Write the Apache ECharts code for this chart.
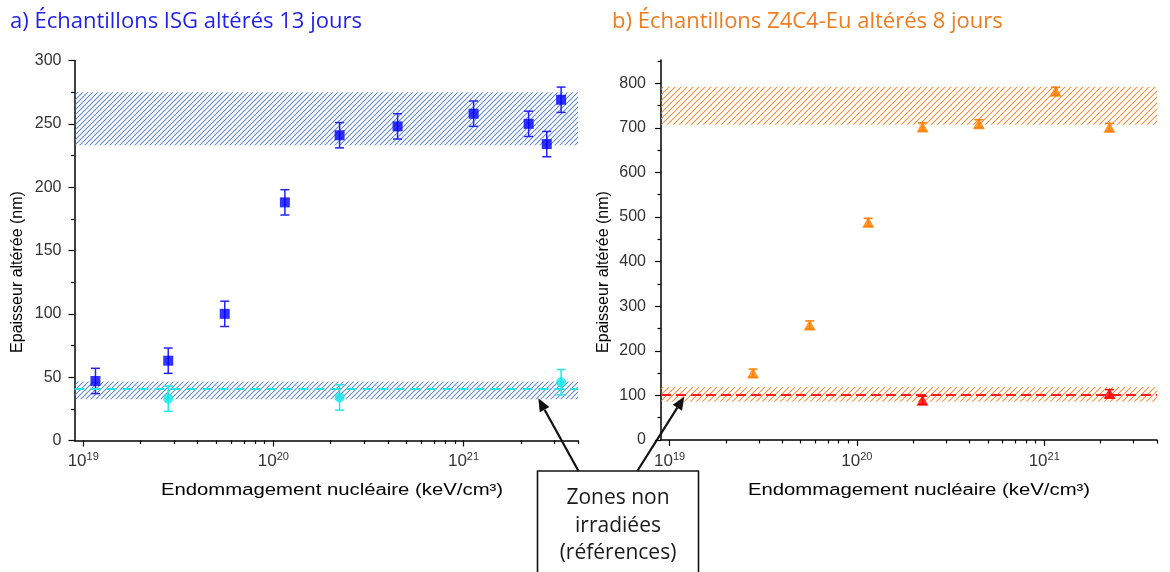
<!DOCTYPE html>
<html><head><meta charset="utf-8">
<script src="https://cdn.jsdelivr.net/npm/echarts@6/dist/echarts.min.js"></script>
<style>html,body{margin:0;padding:0;background:#fff}#c{width:1170px;height:572px}</style>
</head><body><div id="c"></div>
<script>
// ---------- data ----------
// a) ISG, 13 days
const isgX = [1.16e19, 2.8e19, 5.55e19, 1.15e20, 2.23e20, 4.5e20, 1.13e21, 2.2e21, 2.74e21, 3.26e21];
const isgY = [47, 63, 100, 188, 241, 248, 258, 250, 234, 269];
const isgErr = [10, 10, 10, 10, 10, 10, 10, 10, 10, 10];
const isgRefX = [2.8e19, 2.23e20, 3.26e21];
const isgRefY = [33, 34, 46];
const isgRefErr = [10, 10, 10];
const isgRefMean = 41;
const isgBandHigh = [233, 275];
const isgBandLow = [32.5, 46.5];
// b) Z4C4-Eu, 8 days
const z4X = [2.79e19, 5.6e19, 1.15e20, 2.24e20, 4.48e20, 1.15e21, 2.23e21];
const z4Y = [150, 258, 488, 702, 709, 782, 701];
const z4Err = [9, 9, 9, 9, 9, 9, 9];
const z4RefX = [2.24e20, 2.23e21];
const z4RefY = [89, 104];
const z4RefErr = [9, 9];
const z4RefMean = 102;
const z4BandHigh = [707, 792];
const z4BandLow = [86, 119];
// ticks
const xMajor = [1e19, 1e20, 1e21];
const xMinor = [9e18, 2e19, 3e19, 4e19, 5e19, 6e19, 7e19, 8e19, 9e19,
  2e20, 3e20, 4e20, 5e20, 6e20, 7e20, 8e20, 9e20, 2e21, 3e21, 4e21];
const yLeftMajor = [0, 50, 100, 150, 200, 250, 300];
const yLeftMinor = [25, 75, 125, 175, 225, 275];
const yRightMajor = [0, 100, 200, 300, 400, 500, 600, 700, 800];
const yRightMinor = [50, 150, 250, 350, 450, 550, 650, 750, 850];

// ---------- helpers ----------
function hatch(color, size, lw) {
  const c = document.createElement('canvas');
  c.width = size; c.height = size;
  const g = c.getContext('2d');
  g.strokeStyle = color; g.lineWidth = lw;
  for (const k of [-size, 0, size]) {
    g.beginPath(); g.moveTo(k - 1, size + 1); g.lineTo(k + size + 1, -1); g.stroke();
  }
  return { image: c, repeat: 'repeat' };
}
function errRender(color, cap) {
  return function (params, api) {
    const x = api.value(0), y = api.value(1), e = api.value(2);
    const t = api.coord([x, y + e]);
    const b = api.coord([x, y - e]);
    const st = { stroke: color, lineWidth: 1.5, fill: null };
    return { type: 'group', children: [
      { type: 'line', shape: { x1: t[0], y1: t[1], x2: b[0], y2: b[1] }, style: st },
      { type: 'line', shape: { x1: t[0] - cap, y1: t[1], x2: t[0] + cap, y2: t[1] }, style: st },
      { type: 'line', shape: { x1: b[0] - cap, y1: b[1], x2: b[0] + cap, y2: b[1] }, style: st }
    ]};
  };
}
const zip = (xs, ys) => xs.map((x, i) => [x, ys[i]]);
const zip3 = (xs, ys, es) => xs.map((x, i) => [x, ys[i], es[i]]);

const LBL = '#333';
function xMain(grid) {
  return {
    type: 'log', logBase: 10, gridIndex: grid, position: 'bottom', min: 9e18, max: 4e21,
    axisLine: { show: true, lineStyle: { color: '#000', width: 1.5 } },
    axisTick: { show: true, inside: false, length: 6, lineStyle: { color: '#000', width: 1.2 }, customValues: xMajor },
    axisLabel: {
      show: true, margin: 11, customValues: xMajor, color: LBL,
      formatter: v => '{b|10}{s|' + Math.round(Math.log10(v)) + '}',
      rich: {
        b: { fontFamily: 'Liberation Sans', fontSize: 17, color: LBL, lineHeight: 20 },
        s: { fontFamily: 'Liberation Sans', fontSize: 11, color: LBL, lineHeight: 20, verticalAlign: 'top' }
      }
    },
    splitLine: { show: false }, minorTick: { show: false }
  };
}
function xMinorAxis(grid) {
  return {
    type: 'log', logBase: 10, gridIndex: grid, position: 'bottom', min: 9e18, max: 4e21,
    axisLine: { show: false },
    axisTick: { show: true, length: 3.5, lineStyle: { color: '#000', width: 1.2 }, customValues: xMinor },
    axisLabel: { show: false }, splitLine: { show: false }
  };
}
function yMain(grid, max, major, margin) {
  return {
    type: 'value', gridIndex: grid, position: 'left', min: 0, max: max,
    axisLine: { show: true, lineStyle: { color: '#000', width: 1.5 } },
    axisTick: { show: true, length: 6, lineStyle: { color: '#000', width: 1.2 }, customValues: major },
    axisLabel: { show: true, customValues: major, margin: margin, color: LBL, fontFamily: 'Liberation Sans', fontSize: 16 },
    splitLine: { show: false }
  };
}
function yMinorAxis(grid, max, minor) {
  return {
    type: 'value', gridIndex: grid, position: 'left', min: 0, max: max,
    axisLine: { show: false },
    axisTick: { show: true, length: 3.5, lineStyle: { color: '#000', width: 1.2 }, customValues: minor },
    axisLabel: { show: false }, splitLine: { show: false }
  };
}

const blueHatch = hatch('rgba(60,110,195,0.8)', 5, 1.05);
const orangeHatch = hatch('rgba(245,125,30,0.85)', 6, 1.1);

const chart = echarts.init(document.getElementById('c'), null, { renderer: 'canvas' });

// arrows (annotation)
function arrow(x0, y0, x1, y1) {
  const dx = x1 - x0, dy = y1 - y0, L = Math.hypot(dx, dy);
  const ux = dx / L, uy = dy / L, nx = -uy, ny = ux;
  const hl = 13, hw = 5.5;
  const bx = x1 - ux * hl, by = y1 - uy * hl;
  return [
    { type: 'line', z: 100, shape: { x1: x0, y1: y0, x2: bx, y2: by }, style: { stroke: '#111', lineWidth: 2.2 } },
    { type: 'polygon', z: 100, shape: { points: [[x1, y1], [bx + nx * hw, by + ny * hw], [bx - nx * hw, by - ny * hw]] }, style: { fill: '#111' } }
  ];
}

const option = {
  animation: false,
  backgroundColor: '#fff',
  grid: [
    { left: 74.5, top: 60.5, width: 503.5, height: 380 },
    { left: 661, top: 60, width: 496, height: 380 }
  ],
  xAxis: [xMain(0), xMinorAxis(0), xMain(1), xMinorAxis(1)],
  yAxis: [
    yMain(0, 300, yLeftMajor, 13), yMinorAxis(0, 300, yLeftMinor),
    yMain(1, 852, yRightMajor, 15), yMinorAxis(1, 852, yRightMinor)
  ],
  series: [
    // ---- a) ISG ----
    {
      type: 'custom', xAxisIndex: 0, yAxisIndex: 0, z: 2,
      renderItem: errRender('#2222ff', 4.5), encode: { x: 0, y: 1 },
      data: zip3(isgX, isgY, isgErr),
      markArea: {
        silent: true,
        itemStyle: { color: blueHatch, opacity: 1, borderWidth: 0 },
        data: [
          [{ yAxis: isgBandHigh[0] }, { yAxis: isgBandHigh[1] }],
          [{ yAxis: isgBandLow[0] }, { yAxis: isgBandLow[1] }]
        ]
      }
    },
    {
      type: 'custom', xAxisIndex: 0, yAxisIndex: 0, z: 3,
      renderItem: errRender('#22e6e6', 4.5), encode: { x: 0, y: 1 },
      data: zip3(isgRefX, isgRefY, isgRefErr),
      markLine: {
        silent: true, symbol: ['none', 'none'], label: { show: false },
        lineStyle: { color: '#1fe5e5', width: 2, type: [10, 6] },
        data: [{ yAxis: isgRefMean }]
      }
    },
    {
      type: 'scatter', xAxisIndex: 0, yAxisIndex: 0, z: 5,
      symbol: 'rect', symbolSize: 10, itemStyle: { color: '#0000ff' },
      data: zip(isgX, isgY)
    },
    {
      type: 'scatter', xAxisIndex: 0, yAxisIndex: 0, z: 5,
      symbol: 'circle', symbolSize: 10, itemStyle: { color: '#11e8e8' },
      data: zip(isgRefX, isgRefY)
    },
    // ---- b) Z4C4-Eu ----
    {
      type: 'custom', xAxisIndex: 2, yAxisIndex: 2, z: 2,
      renderItem: errRender('#ff8000', 4.5), encode: { x: 0, y: 1 },
      data: zip3(z4X, z4Y, z4Err),
      markArea: {
        silent: true,
        itemStyle: { color: orangeHatch, opacity: 1, borderWidth: 0 },
        data: [
          [{ yAxis: z4BandHigh[0] }, { yAxis: z4BandHigh[1] }],
          [{ yAxis: z4BandLow[0] }, { yAxis: z4BandLow[1] }]
        ]
      }
    },
    {
      type: 'custom', xAxisIndex: 2, yAxisIndex: 2, z: 3,
      renderItem: errRender('#ff0000', 4.5), encode: { x: 0, y: 1 },
      data: zip3(z4RefX, z4RefY, z4RefErr),
      markLine: {
        silent: true, symbol: ['none', 'none'], label: { show: false },
        lineStyle: { color: '#ff1a1a', width: 2, type: [10, 5] },
        data: [{ yAxis: z4RefMean }]
      }
    },
    {
      type: 'scatter', xAxisIndex: 2, yAxisIndex: 2, z: 5,
      symbol: 'triangle', symbolSize: [12, 11], itemStyle: { color: '#ff8000' },
      data: zip(z4X, z4Y)
    },
    {
      type: 'scatter', xAxisIndex: 2, yAxisIndex: 2, z: 5,
      symbol: 'triangle', symbolSize: [12, 11], itemStyle: { color: '#ff0000' },
      data: zip(z4RefX, z4RefY)
    }
  ],
  graphic: [
    { type: 'text', x: 10, y: 22, style: { text: 'a) Échantillons ISG altérés 13 jours', fill: '#1f1ff0', font: '22px "Open Sans"', verticalAlign: 'middle' } },
    { type: 'text', x: 612, y: 22, style: { text: 'b) Échantillons Z4C4-Eu altérés 8 jours', fill: '#f07c1e', font: '22px "Open Sans"', verticalAlign: 'middle' } },
    { type: 'text', x: 18, y: 272, rotation: Math.PI / 2, style: { text: 'Epaisseur altérée (nm)', fill: '#000', font: '16px "Liberation Sans"', align: 'center', verticalAlign: 'middle' } },
    { type: 'text', x: 604, y: 272, rotation: Math.PI / 2, style: { text: 'Epaisseur altérée (nm)', fill: '#000', font: '16px "Liberation Sans"', align: 'center', verticalAlign: 'middle' } },
    { type: 'text', x: 332, y: 491, scaleX: 1.27, style: { text: 'Endommagement nucléaire (keV/cm³)', fill: '#000', font: '16px "Liberation Sans"', align: 'center', verticalAlign: 'middle' } },
    { type: 'text', x: 919, y: 491, scaleX: 1.27, style: { text: 'Endommagement nucléaire (keV/cm³)', fill: '#000', font: '16px "Liberation Sans"', align: 'center', verticalAlign: 'middle' } },
    { type: 'rect', z: 100, shape: { x: 537.5, y: 471, width: 161, height: 120 }, style: { fill: '#fff', stroke: '#111', lineWidth: 1.6 } },
    { type: 'text', z: 101, x: 618, y: 498, style: { text: 'Zones non', fill: '#1a1a1a', font: '21px "Open Sans"', align: 'center', verticalAlign: 'middle' } },
    { type: 'text', z: 101, x: 618, y: 526, style: { text: 'irradiées', fill: '#1a1a1a', font: '21px "Open Sans"', align: 'center', verticalAlign: 'middle' } },
    { type: 'text', z: 101, x: 618, y: 553, style: { text: '(références)', fill: '#1a1a1a', font: '21px "Open Sans"', align: 'center', verticalAlign: 'middle' } },
    ...arrow(578.5, 471, 538.3, 398.3),
    ...arrow(637.3, 471, 684.3, 396.7)
  ]
};
chart.setOption(option);
</script>
</body></html>
